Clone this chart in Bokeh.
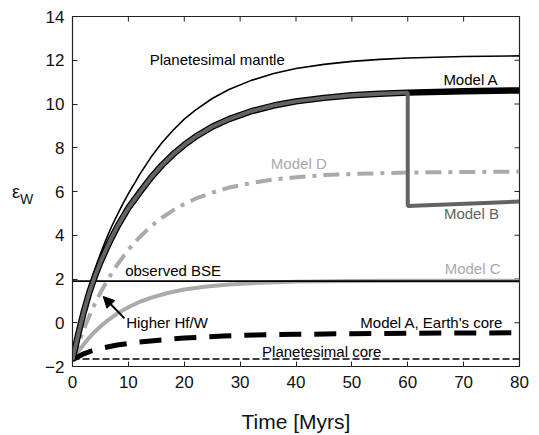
import numpy as np
from bokeh.plotting import figure
from bokeh.models import Label, Arrow, NormalHead, FixedTicker, Range1d, Div
from bokeh.layouts import row
from bokeh.embed import file_html
from bokeh.resources import INLINE

# ---------------- data ----------------
x_ticks = [0, 10, 20, 30, 40, 50, 60, 70, 80]
y_ticks = [-2, 0, 2, 4, 6, 8, 10, 12, 14]

mantle_t = [0, 1, 2, 3, 4, 5, 6, 7, 8, 9, 10, 11, 12, 14, 16, 18, 20, 22, 25, 28, 32, 36, 40, 45, 50, 55, 60, 70, 80]
mantle_e = [-1.7, -0.4, 0.7, 1.65, 2.45, 3.15, 3.8, 4.4, 4.92, 5.43, 5.9, 6.33, 6.77, 7.55, 8.23, 8.8,
            9.31, 9.72, 10.25, 10.66, 11.08, 11.39, 11.62, 11.81, 11.95, 12.04, 12.1, 12.17, 12.2]

model_a_t = [0, 1, 2, 3, 4, 5, 6, 7, 8, 9, 10, 11, 12, 14, 16, 18, 20, 22, 25, 28, 32, 36, 40, 45, 50, 55, 60, 70, 80]
model_a_e = [-1.7, -0.55, 0.48, 1.38, 2.12, 2.77, 3.34, 3.89, 4.38, 4.82, 5.25, 5.6, 5.95, 6.62, 7.2, 7.7,
             8.13, 8.5, 8.96, 9.31, 9.67, 9.93, 10.12, 10.28, 10.4, 10.47, 10.52, 10.58, 10.62]

model_b_tail_t = [60, 80]
model_b_tail_e = [5.34, 5.54]

model_d_t = [0, 1, 2, 3, 4, 5, 6, 7, 8, 10, 12, 14, 16, 18, 20, 22, 25, 28, 32, 36, 40, 45, 50, 60, 70, 80]
model_d_e = [-1.7, -0.98, -0.31, 0.3, 0.86, 1.37, 1.83, 2.26, 2.65, 3.34, 3.91, 4.4, 4.8, 5.14, 5.43,
             5.67, 5.95, 6.18, 6.39, 6.55, 6.65, 6.75, 6.8, 6.87, 6.89, 6.91]

model_c_t = [0, 1, 2, 3, 4, 5, 6, 8, 10, 12, 14, 17, 20, 24, 28, 32, 40, 50, 60, 80]
model_c_e = [-1.7, -1.32, -0.99, -0.68, -0.41, -0.17, 0.05, 0.42, 0.71, 0.95, 1.14, 1.36, 1.52, 1.66,
             1.75, 1.81, 1.88, 1.91, 1.92, 1.92]

core_a_t = [0, 1, 2, 3.5, 5.7, 8, 11, 14, 17, 20, 23, 27, 30, 35, 40, 50, 60, 70, 80]
core_a_e = [-1.7, -1.55, -1.42, -1.28, -1.14, -1.02, -0.91, -0.83, -0.76, -0.7, -0.66, -0.61, -0.58,
            -0.55, -0.53, -0.5, -0.48, -0.47, -0.46]

bse_t = [0, 80]
bse_e = [1.9, 1.9]

pcore_t = [0, 80]
pcore_e = [-1.66, -1.66]

# Model B = Model A until 60 Myr, then drop
model_b_t = [t for t in model_a_t if t <= 60] + model_b_tail_t
model_b_e = [e for t, e in zip(model_a_t, model_a_e) if t <= 60] + model_b_tail_e

FONT = "Liberation Sans"
LIGHT = "#aaaaaa"
DARK = "#636363"

DIV_W = 30
DIV_ML = 12
LEFT = DIV_W + DIV_ML

p = figure(width=539 - LEFT, height=435, x_range=Range1d(0, 80), y_range=Range1d(-2, 14),
           output_backend="svg", toolbar_location=None,
           min_border_left=71 - LEFT, min_border_right=20, min_border_top=16, min_border_bottom=67)
p.background_fill_color = "white"
p.border_fill_color = "white"
p.outline_line_color = "#222222"
p.outline_line_width = 1.2
p.xgrid.visible = False
p.ygrid.visible = False

for ax, ticks in ((p.xaxis, x_ticks), (p.yaxis, y_ticks)):
    ax.ticker = FixedTicker(ticks=ticks)
    ax.major_tick_in = 5
    ax.major_tick_out = 0
    ax.minor_tick_line_color = None
    ax.axis_line_color = "#222222"
    ax.major_tick_line_color = "#222222"
    ax.major_label_text_font = FONT
    ax.major_label_text_font_size = "17px"
    ax.major_label_text_color = "#111111"

p.xaxis.major_label_standoff = 9
p.yaxis.major_label_standoff = 8
p.xaxis.axis_label = "Time [Myrs]"
p.xaxis.axis_label_text_font = FONT
p.xaxis.axis_label_text_font_size = "21px"
p.xaxis.axis_label_text_font_style = "normal"
p.xaxis.axis_label_text_color = "#111111"
p.xaxis.axis_label_standoff = 19

# ticks on the top and right frame edges (pointing inward)
p.ray(x=[80] * len(y_ticks), y=y_ticks, length=5, angle=np.pi, length_units="screen",
      line_color="#222222", line_width=1)
p.ray(x=x_ticks, y=[14] * len(x_ticks), length=5, angle=-np.pi / 2, length_units="screen",
      line_color="#222222", line_width=1)

# curves
p.line(model_c_t, model_c_e, line_color=LIGHT, line_width=4)
p.line(model_d_t, model_d_e, line_color=LIGHT, line_width=4, line_dash="16 7 4 7")
p.line(core_a_t, core_a_e, line_color="black", line_width=5, line_dash="22 13")
p.line(pcore_t, pcore_e, line_color="black", line_width=1.5, line_dash="7 3")
p.line(bse_t, bse_e, line_color="black", line_width=1.8)
p.line(mantle_t, mantle_e, line_color="black", line_width=1.6)
p.line(model_a_t, model_a_e, line_color="black", line_width=6.5)
p.line(model_b_t, model_b_e, line_color=DARK, line_width=4)

# arrow "Higher Hf/W"
p.add_layout(Arrow(end=NormalHead(size=11, fill_color="black", line_color="black"),
                   x_start=9.3, y_start=0.2, x_end=5.5, y_end=1.2,
                   line_color="black", line_width=2))


def lab(x, y, text, color="black", size="15px", align="center"):
    p.add_layout(Label(x=x, y=y, text=text, text_font=FONT, text_font_size=size,
                       text_color=color, text_align=align, text_baseline="middle"))


lab(25.9, 12.05, "Planetesimal mantle")
lab(71.3, 11.14, "Model A")
lab(40.5, 7.29, "Model D", LIGHT)
lab(71.4, 4.98, "Model B", DARK)
lab(71.6, 2.49, "Model C", LIGHT)
lab(18.0, 2.4, "observed BSE")
lab(9.6, 0.0, "Higher Hf/W", align="left")
lab(64.3, 0.0, "Model A, Earth's core")
lab(44.6, -1.32, "Planetesimal core")

# y-axis label: epsilon with subscript W
ylab = Div(text=('<span style="font-family:\'Liberation Sans\';font-size:18px;color:#111">ε</span>'
                 '<span style="font-family:\'Liberation Sans\';font-size:14px;color:#111;'
                 'position:relative;top:6px">W</span>'),
           width=DIV_W, height=40, margin=(180, 0, 0, DIV_ML))

layout = row(ylab, p)
open("out.html", "w").write(file_html(layout, INLINE))
